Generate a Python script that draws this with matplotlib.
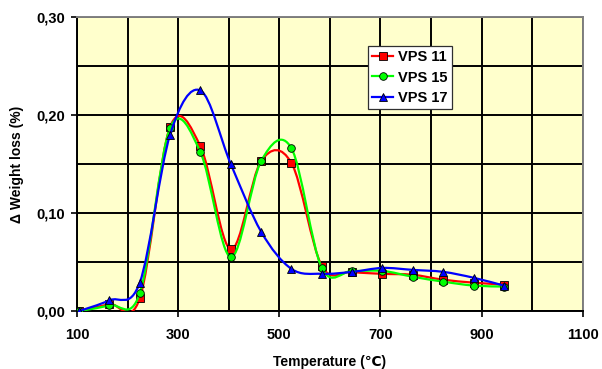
import numpy as np
import matplotlib
matplotlib.use("Agg")
import matplotlib.pyplot as plt
from matplotlib.path import Path
from matplotlib.patches import PathPatch
from matplotlib.lines import Line2D

plt.rcParams['font.family'] = ['Liberation Sans', 'DejaVu Sans']
plt.rcParams['font.weight'] = 'bold'

temps = [104, 164, 224, 284, 344, 404, 464, 524, 584, 644, 704, 764, 824, 884, 944]
vps11 = [0.000, 0.007, 0.013, 0.188, 0.168, 0.063, 0.153, 0.151, 0.046, 0.040, 0.038, 0.037, 0.032, 0.029, 0.027]
vps15 = [0.000, 0.006, 0.018, 0.187, 0.162, 0.055, 0.153, 0.166, 0.044, 0.041, 0.041, 0.035, 0.030, 0.026, 0.025]
vps17 = [0.000, 0.011, 0.029, 0.180, 0.225, 0.150, 0.081, 0.043, 0.038, 0.040, 0.044, 0.042, 0.040, 0.034, 0.026]

series = [("VPS 11", vps11, "#FF0000", "s"),
          ("VPS 15", vps15, "#00FF00", "o"),
          ("VPS 17", vps17, "#0000FF", "^")]


def smooth_path(x, y):
    # Excel-style smoothed line: Catmull-Rom as cubic bezier segments
    p = np.column_stack([x, y]).astype(float)
    n = len(p)
    verts = [p[0]]
    codes = [Path.MOVETO]
    for i in range(n - 1):
        p0 = p[i - 1] if i > 0 else p[i]
        p1, p2 = p[i], p[i + 1]
        p3 = p[i + 2] if i + 2 < n else p[i + 1]
        c1 = p1 + (p2 - p0) / 6.0
        c2 = p2 - (p3 - p1) / 6.0
        verts += [c1, c2, p2]
        codes += [Path.CURVE4] * 3
    return Path(verts, codes)


fig = plt.figure(figsize=(6.02, 3.69), dpi=100)
ax = fig.add_axes([0.128, 0.157, 0.84, 0.797])
ax.set_facecolor("#FFFFCC")

for k, (name, vals, col, mk) in enumerate(series):
    ax.add_patch(PathPatch(smooth_path(temps, vals), facecolor="none", edgecolor=col,
                           lw=1.6, zorder=3 + k))
    ax.plot(temps, vals, ls="none", marker=mk, ms=5.5, mfc=col, mec="black", mew=0.6,
            zorder=3 + k)

ax.set_xlim(100, 1100)
ax.set_ylim(0, 0.30)
ax.set_xticks(np.arange(100, 1101, 200))
ax.set_yticks([0.0, 0.1, 0.2, 0.3])
ax.set_yticklabels(["0,00", "0,10", "0,20", "0,30"])
ax.set_xticks(np.arange(100, 1101, 100), minor=True)
ax.set_yticks(np.arange(0, 0.301, 0.05), minor=True)
ax.grid(which="both", color="black", lw=1.4, zorder=1)
ax.set_axisbelow(True)
ax.tick_params(which="major", direction="out", length=4.5, width=1.2, labelsize=10.5)
ax.tick_params(axis="x", which="major", pad=8)
ax.tick_params(axis="y", which="major", pad=4)
ax.tick_params(which="minor", length=0)
for lab in ax.get_xticklabels() + ax.get_yticklabels():
    lab.set_fontweight("bold")
ax.spines["left"].set_color("black")
ax.spines["bottom"].set_color("black")
ax.spines["left"].set_linewidth(1.4)
ax.spines["bottom"].set_linewidth(1.4)
ax.spines["top"].set_color("#808080")
ax.spines["right"].set_color("#808080")
ax.spines["top"].set_linewidth(1.4)
ax.spines["right"].set_linewidth(1.4)

ax.set_xlabel("Temperature (\u2103)", fontsize=10, fontweight="bold", labelpad=9)
ax.set_ylabel("\u0394 Weight loss (%)", fontsize=10, fontweight="bold", labelpad=9)

handles = [Line2D([], [], color=col, lw=1.6, marker=mk, ms=5.5, mfc=col, mec="black", mew=0.6)
           for name, vals, col, mk in series]
leg = ax.legend(handles, [s[0] for s in series], loc="upper left",
                bbox_to_anchor=(0.575, 0.901), borderaxespad=0, fancybox=False,
                framealpha=1, edgecolor="#303030", fontsize=10.5, handlelength=1.45,
                handletextpad=0.3, labelspacing=0.42, borderpad=0.3)
for t in leg.get_texts():
    t.set_fontweight("bold")
leg.get_frame().set_linewidth(0.9)
leg.set_zorder(10)

fig.savefig("out.png", dpi=100)
